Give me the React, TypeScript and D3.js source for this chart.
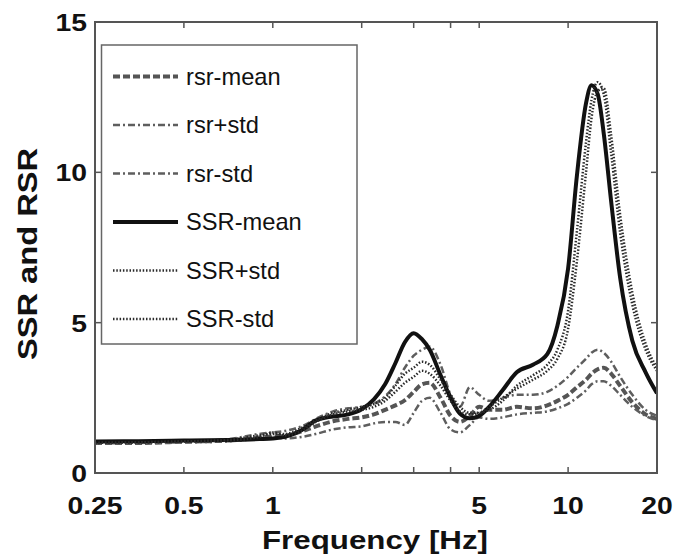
import * as d3 from 'd3';

// frequency grid (Hz) shared by every curve
const freqs = [
  0.25, 0.35, 0.5, 0.7, 0.9, 1.0, 1.1, 1.25, 1.4, 1.6, 1.8, 2.0, 2.2, 2.4, 2.6, 2.8, 3.0, 3.2, 3.4, 3.7,
  4.0, 4.3, 4.65, 5.0, 5.4, 6.0, 6.7, 7.6, 8.5, 9.2, 10, 10.7, 11.5, 12, 12.6, 13.2, 14, 15, 16.5, 18.3, 20,
];

const rsrMean = [
  1.0, 1.0, 1.04, 1.08, 1.18, 1.22, 1.24, 1.38, 1.55, 1.72, 1.8, 1.85, 1.95, 2.1, 2.25, 2.42, 2.7, 2.95,
  3.0, 2.5, 1.9, 1.7, 1.9, 2.2, 2.1, 2.1, 2.2, 2.15, 2.25, 2.4, 2.6, 2.85, 3.1, 3.3, 3.45, 3.5, 3.3, 2.9,
  2.35, 1.95, 1.8,
];
const rsrPlus = [
  1.0, 1.02, 1.05, 1.12, 1.3, 1.35, 1.4, 1.55, 1.8, 2.05, 2.15, 2.2, 2.3, 2.55, 2.95, 3.5, 3.9, 4.1, 4.2,
  3.6, 2.6, 2.2, 2.85, 2.6, 2.4, 2.5, 2.6, 2.6, 2.7, 2.9, 3.2, 3.5, 3.8, 4.0, 4.1, 4.0, 3.7, 3.2, 2.6, 2.1,
  1.9,
];
const rsrMinus = [
  0.98, 1.0, 1.02, 1.05, 1.15, 1.2, 1.15, 1.2, 1.3, 1.45, 1.52, 1.55, 1.65, 1.7, 1.7, 1.6, 2.0, 2.4, 2.5,
  2.0, 1.45, 1.35, 1.6, 1.85, 1.8, 1.85, 1.95, 2.0, 2.05, 2.15, 2.3, 2.5, 2.75, 2.95, 3.05, 3.05, 2.9, 2.6,
  2.2, 1.9, 1.75,
];
const ssrMean = [
  1.05, 1.06, 1.08, 1.1, 1.13, 1.15, 1.2, 1.42, 1.75, 1.88, 1.95, 2.12, 2.45, 2.95, 3.65, 4.35, 4.65, 4.45,
  4.1, 3.25, 2.5, 1.98, 1.82, 1.9, 2.2, 2.75, 3.35, 3.6, 3.95, 4.9, 6.8, 9.85, 12.3, 12.9, 12.6, 11.3, 9.0,
  6.5, 4.4, 3.35, 2.65,
];
const ssrPlus = [
  1.0, 1.02, 1.05, 1.1, 1.25, 1.3, 1.3, 1.5, 1.75, 2.0, 2.1, 2.2, 2.3, 2.5, 2.9, 3.3, 3.5, 3.7, 3.6, 3.1,
  2.6, 2.2, 2.0, 2.0, 2.1, 2.4, 2.9, 3.25, 3.6, 4.1, 5.4, 8.0, 11.0, 12.4, 13.0, 12.6, 10.6, 8.0, 5.6, 4.1,
  3.4,
];
const ssrMinus = [
  1.0, 1.02, 1.05, 1.08, 1.2, 1.35, 1.25, 1.4, 1.7, 1.95, 2.05, 2.1, 2.2, 2.4, 2.7, 3.0, 3.2, 3.4, 3.3, 2.9,
  2.4, 2.05, 1.95, 2.0, 2.2, 2.5, 2.8, 3.1, 3.4, 3.8, 4.8, 7.0, 10.0, 11.8, 12.7, 12.8, 11.2, 8.6, 6.0, 4.3,
  3.5,
];

const xTicks = [0.25, 0.5, 1, 2, 3, 4, 5, 10, 20];
const xTickLabels = ['0.25', '0.5', '1', '', '', '', '5', '10', '20'];
const yTicks = [0, 5, 10, 15];

type Series = { name: string; values: number[]; color: string; width: number; dash: string };
const series: Series[] = [
  { name: 'rsr-mean', values: rsrMean, color: '#555', width: 4, dash: '7,3' },
  { name: 'rsr+std', values: rsrPlus, color: '#5e5e5e', width: 2.5, dash: '7,3,2,3' },
  { name: 'rsr-std', values: rsrMinus, color: '#5e5e5e', width: 2.5, dash: '7,3,2,3' },
  { name: 'SSR-mean', values: ssrMean, color: '#111', width: 4, dash: '' },
  { name: 'SSR+std', values: ssrPlus, color: '#2a2a2a', width: 2.5, dash: '1.5,1.8' },
  { name: 'SSR-std', values: ssrMinus, color: '#2a2a2a', width: 2.5, dash: '1.5,1.8' },
];

const W = 674;
const H = 559;
const left = 95;
const right = 657;
const top = 22;
const bottom = 473;
const font = "'Liberation Sans', Arial, Helvetica, sans-serif";

export default function App() {
  const x = d3.scaleLog().domain([0.25, 20]).range([left, right]);
  const y = d3.scaleLinear().domain([0, 15]).range([bottom, top]);

  const line = d3
    .line<number>()
    .x((_, i) => x(freqs[i]))
    .y(d => y(d))
    .curve(d3.curveMonotoneX);

  const tickLen = 6;

  return (
    <svg
      width={W}
      height={H}
      style={{ position: 'absolute', left: 0, top: 0, background: '#fff' }}
      fontFamily={font}
    >
      <rect width={W} height={H} fill="#fff" />
      <defs>
        <clipPath id="plot">
          <rect x={left} y={top} width={right - left} height={bottom - top} />
        </clipPath>
      </defs>

      {/* curves */}
      <g clipPath="url(#plot)">
        {series.map(s => (
          <path
            key={s.name}
            d={line(s.values) || ''}
            fill="none"
            stroke={s.color}
            strokeWidth={s.width}
            strokeDasharray={s.dash || undefined}
            strokeLinejoin="round"
          />
        ))}
      </g>

      {/* frame */}
      <rect
        x={left}
        y={top}
        width={right - left}
        height={bottom - top}
        fill="none"
        stroke="#555"
        strokeWidth={2}
      />

      {/* x ticks */}
      {xTicks.map((t, i) => (
        <g key={'xt' + t}>
          <line x1={x(t)} x2={x(t)} y1={bottom} y2={bottom - tickLen} stroke="#555" strokeWidth={1.5} />
          <line x1={x(t)} x2={x(t)} y1={top} y2={top + tickLen} stroke="#555" strokeWidth={1.5} />
          {xTickLabels[i] && (
            <text
              transform={`translate(${x(t)},514) scale(1.18,1)`}
              textAnchor="middle"
              fontSize={24}
              fontWeight="bold"
              fill="#111"
            >
              {xTickLabels[i]}
            </text>
          )}
        </g>
      ))}

      {/* y ticks */}
      {yTicks.map(t => (
        <g key={'yt' + t}>
          <line x1={left} x2={left + tickLen} y1={y(t)} y2={y(t)} stroke="#555" strokeWidth={1.5} />
          <line x1={right} x2={right - tickLen} y1={y(t)} y2={y(t)} stroke="#555" strokeWidth={1.5} />
          <text
            transform={`translate(87,${y(t) + 9}) scale(1.18,1)`}
            textAnchor="end"
            fontSize={24}
            fontWeight="bold"
            fill="#111"
          >
            {t}
          </text>
        </g>
      ))}

      {/* axis titles */}
      <text
        x={375}
        y={549}
        textAnchor="middle"
        fontSize={25}
        fontWeight="bold"
        fill="#111"
        textLength={226}
        lengthAdjust="spacingAndGlyphs"
      >
        Frequency [Hz]
      </text>
      <text
        transform={`translate(36.5,254) rotate(-90)`}
        textAnchor="middle"
        fontSize={27}
        fontWeight="bold"
        fill="#111"
        textLength={212}
        lengthAdjust="spacingAndGlyphs"
      >
        SSR and RSR
      </text>

      {/* legend */}
      <rect x={101.5} y={45} width={255.5} height={299} fill="#fff" stroke="#666" strokeWidth={1.5} />
      {series.map((s, i) => {
        const base = 84.5 + i * 48.5;
        return (
          <g key={'lg' + s.name}>
            <line
              x1={113}
              x2={178}
              y1={base - 8}
              y2={base - 8}
              stroke={s.color}
              strokeWidth={s.width}
              strokeDasharray={s.dash || undefined}
            />
            <text
              transform={`translate(186,${base}) scale(1.03,1)`}
              fontSize={23}
              fill="#111"
            >
              {s.name}
            </text>
          </g>
        );
      })}
    </svg>
  );
}
